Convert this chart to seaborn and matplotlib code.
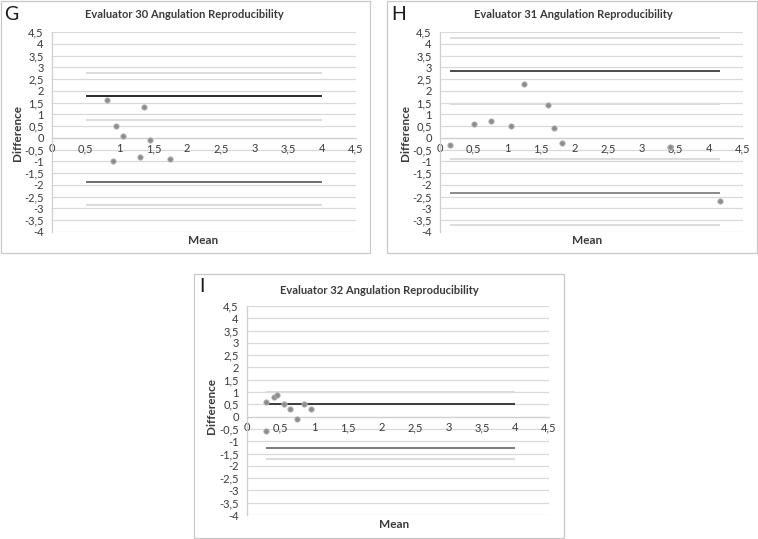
import matplotlib
matplotlib.use("Agg")
import matplotlib.pyplot as plt
import seaborn as sns
import numpy as np
import pandas as pd
from matplotlib.patches import Rectangle

# ---------------- data ----------------
g_mean = [0.81, 1.36, 0.95, 1.05, 1.45, 1.31, 0.90, 1.75]
g_diff = [1.6, 1.3, 0.5, 0.1, -0.1, -0.8, -1.0, -0.9]
g_upper, g_lower = 1.76, -1.87
g_ci = [2.77, 0.77, -2.84]
g_span = [0.5, 4.0]

h_mean = [0.15, 0.5, 0.75, 1.05, 1.25, 1.6, 1.7, 1.81, 3.41, 4.16]
h_diff = [-0.3, 0.6, 0.7, 0.5, 2.3, 1.4, 0.4, -0.2, -0.4, -2.7]
h_upper, h_lower = 2.83, -2.33
h_ci = [4.24, 1.42, -0.9, -3.72]
h_span = [0.15, 4.16]

i_mean = [0.29, 0.29, 0.40, 0.45, 0.55, 0.64, 0.75, 0.85, 0.95]
i_diff = [0.6, -0.6, 0.8, 0.9, 0.5, 0.3, -0.1, 0.5, 0.3]
i_upper, i_lower = 0.5, -1.26
i_ci = [1.0, -1.72]
i_span = [0.29, 4.0]

titles = ["Evaluator 30 Angulation Reproducibility",
          "Evaluator 31 Angulation Reproducibility",
          "Evaluator 32 Angulation Reproducibility"]
letters = ["G", "H", "I"]
x_ticks = [0, 0.5, 1, 1.5, 2, 2.5, 3, 3.5, 4, 4.5]
y_ticks = [-4, -3.5, -3, -2.5, -2, -1.5, -1, -0.5, 0, 0.5, 1, 1.5, 2, 2.5, 3, 3.5, 4, 4.5]

sns.set_theme(style="white")
plt.rcParams['font.family'] = ['Lato', 'DejaVu Sans']

W, H = 758, 539
fig = plt.figure(figsize=(W / 100, H / 100), dpi=100)

def fx(x):
    return x / W

def fy(y):
    return 1 - y / H

def fmt(v):
    s = ("%g" % v).replace(".", ",")
    return s

def panel(axbox, mean, diff, upper, lower, ci, span, dark, mid):
    x0, y0, x1, y1 = axbox
    ax = fig.add_axes([fx(x0), fy(y1), fx(x1 - x0), (y1 - y0) / H])
    ax.set_xlim(0, 4.5)
    ax.set_ylim(-4, 4.5)
    ax.set_yticks(y_ticks)
    ax.set_yticklabels([fmt(v) for v in y_ticks])
    ax.set_xticks(x_ticks)
    ax.set_xticklabels([fmt(v) for v in x_ticks])
    for v in y_ticks:
        ax.axhline(v, color="#d9d9d9", lw=0.9, zorder=0)
    for s in ["top", "right"]:
        ax.spines[s].set_visible(False)
    ax.spines["left"].set_color("#cfcfcf")
    ax.spines["left"].set_linewidth(0.9)
    ax.spines["bottom"].set_position(("data", 0))
    ax.spines["bottom"].set_color("#d0d0d0")
    ax.spines["bottom"].set_linewidth(0.9)
    ax.tick_params(axis="both", length=0, labelsize=8, colors="#3a3a3a")
    ax.tick_params(axis="x", pad=4)
    ax.tick_params(axis="y", pad=6)
    ax.set_facecolor("white")
    ax.patch.set_alpha(0)
    for c in ci:
        ax.hlines(c, span[0], span[1], color="#dcdcdc", lw=1.5, zorder=1)
    ax.hlines(upper, span[0], span[1], color=dark, lw=1.4, zorder=2)
    ax.hlines(lower, span[0], span[1], color=mid, lw=1.4, zorder=2)
    df = pd.DataFrame({"Mean": mean, "Difference": diff})
    sns.scatterplot(data=df, x="Mean", y="Difference", ax=ax, s=15,
                    color="#8c8c8c", edgecolor="#b8b8b8", linewidth=0.6, zorder=3)
    ax.set_xlabel("")
    ax.set_ylabel("")
    return ax

def frame(x0, y0, x1, y1):
    fig.patches.append(Rectangle((fx(x0), fy(y1)), fx(x1 - x0), (y1 - y0) / H,
                                 transform=fig.transFigure, fill=False,
                                 edgecolor="#c8c8c8", lw=0.9))

def labels(title_xy, letter_xy, ylab_xy, xlab_xy, title, letter):
    fig.text(fx(title_xy[0]), fy(title_xy[1]), title, ha="center", va="center",
             fontsize=8, fontweight="bold", color="#3a3a3a")
    fig.text(fx(letter_xy[0]), fy(letter_xy[1]), letter, ha="left", va="center",
             fontsize=14, color="#1a1a1a")
    fig.text(fx(ylab_xy[0]), fy(ylab_xy[1]), "Difference", ha="center", va="center",
             rotation=90, fontsize=8.5, fontweight="bold", color="#3a3a3a")
    fig.text(fx(xlab_xy[0]), fy(xlab_xy[1]), "Mean", ha="center", va="center",
             fontsize=8.5, fontweight="bold", color="#3a3a3a")

frame(1, 1, 370, 253)
frame(387, 1, 757, 253)
frame(194, 274, 564, 538)

panel((52, 32, 356, 232), g_mean, g_diff, g_upper, g_lower, g_ci, g_span, "#2b2b2b", "#6e6e6e")
panel((440, 32, 743, 232), h_mean, h_diff, h_upper, h_lower, h_ci, h_span, "#4a4a4a", "#8a8a8a")
panel((247, 306, 549, 515), i_mean, i_diff, i_upper, i_lower, i_ci, i_span, "#3a3a3a", "#7a7a7a")

labels((184, 15), (4, 14), (18, 133), (203, 240), titles[0], letters[0])
labels((573, 15), (391, 14), (406, 133), (587, 240), titles[1], letters[1])
labels((379, 290), (199, 286), (211, 406), (394, 525), titles[2], letters[2])

fig.savefig("out.png", dpi=100, facecolor="white")
